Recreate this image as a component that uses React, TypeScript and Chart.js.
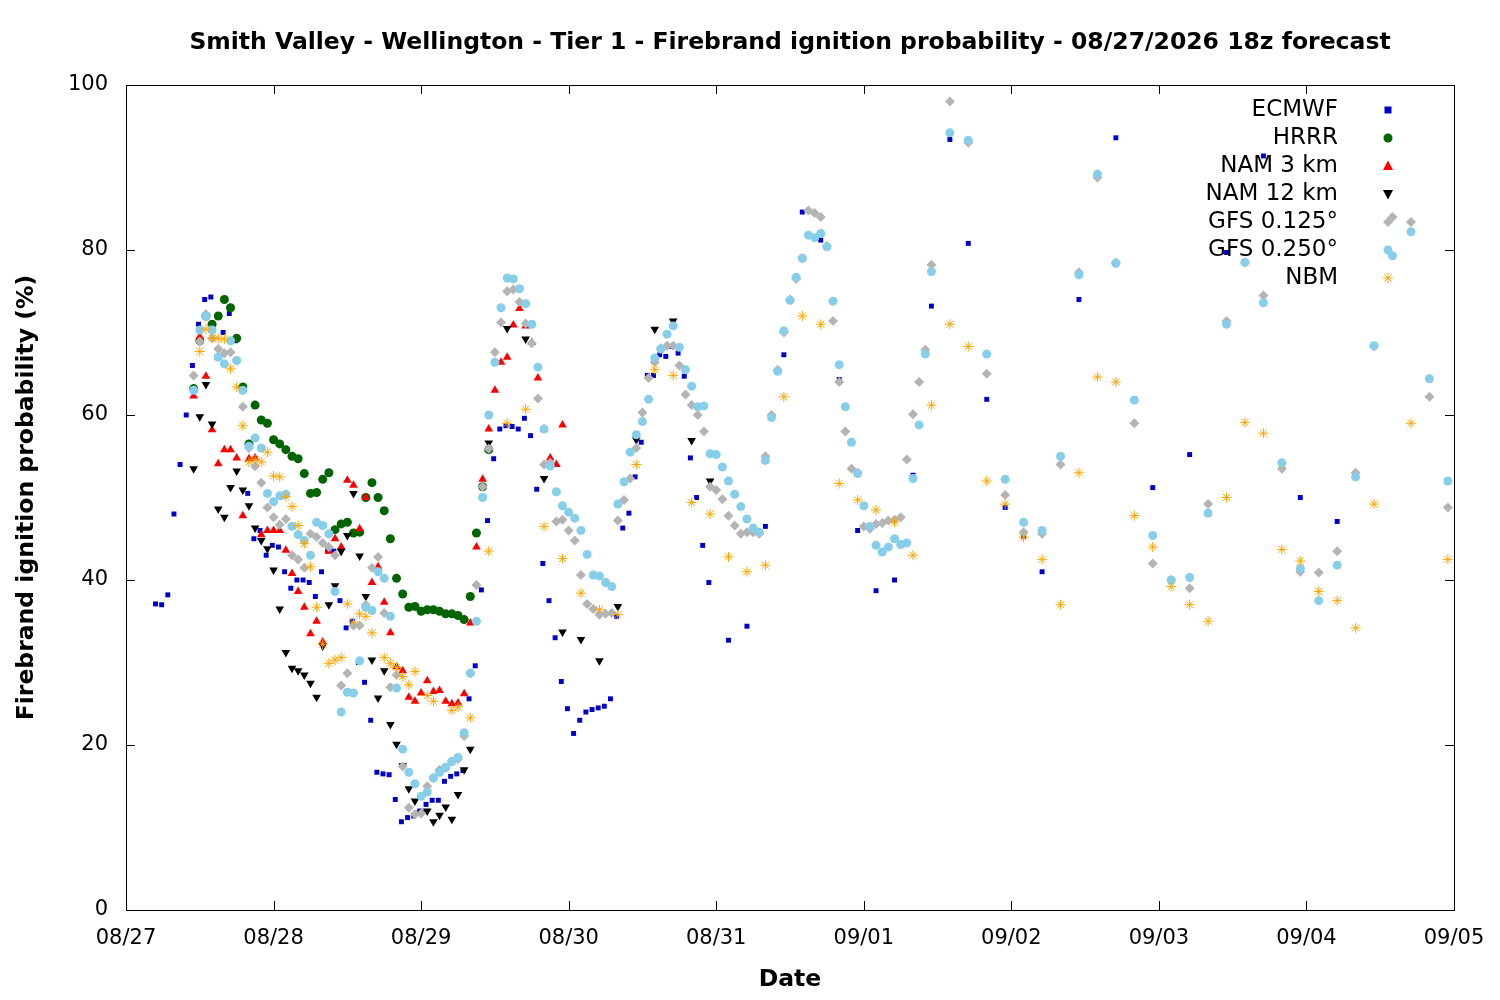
import { useEffect, useRef } from 'react';
import { Chart, registerables } from 'chart.js';

Chart.register(...registerables);

// x is in hours since 08/27 00z
const HOURS_PER_DAY = 24;
const dayLabels = ['08/27', '08/28', '08/29', '08/30', '08/31', '09/01', '09/02', '09/03', '09/04', '09/05'];

const ecmwfDense = [
  37.1, 37, 38.2, 48, 54, 60, 66, 71, 74, 74.3, 67, 70, 72.3, 69, 63, 50.5, 45, 46, 43, 44.2,
  44, 41, 39, 40, 40, 39.7, 38, 41, 43.5, 43.5, 37.5, 34.2, 35, 30, 27.6, 23, 16.7, 16.5, 16.4, 13.4,
  10.7, 11.2, 11.4, 12, 12.8, 13.3, 13.3, 15.6, 16.2, 16.5, 16.9, 25.6, 29.6, 38.8, 47.2, 54.7, 58.3, 58.7, 58.6, 58.3,
  59.6, 57.5, 51, 42, 37.5, 33, 27.7, 24.4, 21.4, 23, 24, 24.3, 24.5, 24.7, 25.6, 35.6, 46.3, 48.1, 52.5, 56.7,
  64.8, 64.8, 67.3, 67.1, 68.3, 67.5, 64.7, 54.8, 50, 44.2, 39.7,
];
const ecmwfSparse = [
  32.7, 34.4, 46.5, 67.3, 84.6, 81.2, 64.3, 46, 38.7, 40, 52.7, 73.2, 93.4, 80.8, 61.9, 48.8, 45.3, 41,
  55, 74, 89, 93.6, 62, 51.2, 40, 55.2, 48, 79.7, 78.5, 91.4, 54, 50, 37.6, 47.1,
];
const hrrr = [
  63.2, 69, 72, 71, 72, 74, 73, 69.3, 63.4, 56.5, 61.2, 59.4, 59, 57, 56.5, 55.8, 55, 54.7, 52.9, 50.5,
  50.6, 52.2, 53, 46.1, 46.8, 47, 45.7, 45.8, 50, 51.8, 50, 48.4, 45, 40.2, 38.3, 36.7, 36.8, 36.2, 36.4, 36.4,
  36.2, 35.9, 35.9, 35.7, 35.2, 38, 45.7, 51.3, 55.8,
];
const nam3 = [
  62.3, 69.5, 64.7, 58.2, 54.1, 55.8, 55.8, 54.8, 47.8, 54.7, 54.8, 45.5, 46, 46, 46, 43.6, 40.8, 38.6, 36.7, 33.5,
  35, 32.5, 43.5, 45, 44, 52.1, 51.5, 46.2, 50, 39.7, 41.6, 37.3, 33.6, 29.5, 29, 25.8, 25.3, 26.3, 27.8, 26.5,
  26.6, 25.3, 25, 25.1, 26.2, 34.8, 44, 52.2, 58.3, 63, 66.4, 67, 70.9, 72.9, 70.8, 68.8, 64.5, 58.3, 54.8, 54,
  58.8,
];
const nam12Dense = [
  53.5, 59.8, 63.7, 58.9, 48.6, 47.6, 51.2, 53.2, 50.9, 49, 46.3, 44.8, 43.8, 41.2, 36.5, 31.2, 29.3, 29, 28.5, 27.5,
  25.8, 32, 37, 39.3, 43.5, 45.4, 50.5, 42.9, 38, 30.3, 25.7, 29, 22.5, 20.1, 17.5, 14.7, 13.2, 11.8, 12, 10.7,
  11.5, 12.5, 11, 14, 17, 19.5,
];
const nam12Sparse = [56.6, 70.5, 69.2, 52.3, 33.7, 32.8, 30.2, 36.8, 57, 70.4, 71.4, 56.9, 52];
const gfs0125Dense = [
  64.8, 68.9, 72.2, 69.3, 68, 67.5, 67.6, 66.6, 61, 56, 53.8, 51.8, 48.8, 47.6, 46.7, 47.4, 43, 42.5, 41.5, 45.6,
  45.2, 44.5, 44, 43, 27.2, 28.7, 34.5, 34.5, 37, 41.5, 42.8, 36, 27, 28.5, 17.4, 12.4, 11.6, 11.7, 15, 16,
  17, 17.2, 18, 18.3, 21.1, 28.7, 39.4, 51.3, 55.9, 67.6, 71.2, 75, 75.2, 73.7, 71.1, 68.7, 62, 54, 54.2, 47.1,
  47.3, 46, 44.8, 40.6, 37.1, 36.5, 35.8, 35.9, 36, 47.2, 49.7, 52.3, 56, 60.3, 64.5, 66.4, 68.1, 68.4, 68.4, 66,
  62.5, 61.2, 60, 58, 51.3, 50.9, 49.8, 47.8, 46.6, 45.6, 45.8, 45.8, 45.6, 55, 60, 65.5, 70, 74, 76.5, 79,
  84.8, 84.5, 84, 80.5, 71.4, 64, 58, 53.5, 53, 46.5, 46.2, 46.8, 46.9, 47.2, 47.3, 47.6, 54.6, 60.1, 64, 67.9,
  78.2,
];
const gfs0125Sparse = [
  98, 93, 65, 50.3, 45.8, 45.6, 54, 77.3, 88.8, 78.5, 59, 42, 40, 39, 49.2, 71.4, 78.5, 74.5, 53.5, 41,
  40.9, 43.5, 53, 68.3, 84, 83.4, 62.2, 48.8,
];
const gfs0250Dense = [
  63, 70.3, 72, 70.3, 67, 66.2, 69, 66.6, 63, 56.2, 57.2, 56, 50.5, 49.5, 50.2, 50.4, 46.5, 45.5, 44.8, 43,
  47, 46.6, 45.6, 38.6, 24, 26.4, 26.3, 30.2, 36.7, 36.3, 41, 40.2, 35.6, 26.9, 19.5, 16.7, 15.3, 13.8, 14.3, 16,
  16.7, 17.3, 18, 18.5, 21.5, 28.7, 35, 50, 60, 66.4, 73, 76.6, 76.5, 75.3, 73.5, 71, 65.8, 58.3, 53.8, 50.7,
  49, 48.2, 47.5, 46, 43.1, 40.6, 40.5, 39.7, 39.2, 49.2, 51.9, 55.5, 57.6, 59.2, 61.9, 66.9, 68, 69.8, 70.8, 68.2,
  65.5, 63.5, 61, 61.1, 55.3, 55.2, 53.7, 52, 50.4, 48.9, 47.4, 46.3, 45.8, 54.5, 59.7, 65.3, 70.2, 73.9, 76.7, 79,
  81.8, 81.5, 82, 80.4, 73.8, 66.1, 61, 56.7, 52.9, 49, 46.5, 44.2, 43.4, 44, 45, 44.3, 44.5, 52.3, 58.8, 67.4,
  77.4,
];
const gfs0250Sparse = [
  94.2, 93.3, 67.4, 52.2, 47, 46, 55, 77, 89.2, 78.4, 61.8, 45.4, 40, 40.3, 48.1, 71, 78.5, 73.6, 54.2, 41.4,
  37.5, 41.8, 52.5, 68.4, 79.3, 82.2, 64.4, 52,
];
const nbmDense = [
  67.7, 70.4, 69.3, 69.3, 69.2, 65.6, 63.4, 58.7, 54.3, 54.6, 54.3, 55.5, 52.6, 52.5, 50.1, 48.9, 46.6, 44.4, 41.6, 36.7,
  32.2, 29.9, 30.3, 30.6, 37.1, 34.9, 35.9, 35.6, 33.6, null, 30.6, 29.9, 29.4, 28.3, 27.3, 28.9, null, 26, 25.3, null,
  null, 24.2, 24.6, null, 23.3,
];
const nbmSparse = [
  43.5, 59, 60.7, 46.5, 42.6, 38.4, 36.4, 35.8, 54, 65.5, 64.8, 49.4, 48, 42.8, 41, 41.8, 62.2, 72, 71, 51.7,
  49.7, 48.5, 47, 43, 61.2, 71, 68.3, 52, 49.2, 45.2, 42.5, 37, 53, 64.6, 64, 47.8, 44, 39.2, 37, 35,
  50, 59.1, 57.8, 43.7, 42.3, 38.6, 37.5, 34.2, 49.2, null, 59, null, 42.5,
];

type Pt = { x: number; y: number };
function pts(start: number, step: number, vals: (number | null)[]): Pt[] {
  const out: Pt[] = [];
  vals.forEach((v, i) => {
    if (v !== null) out.push({ x: start + i * step, y: v });
  });
  return out;
}

const series = [
  { label: 'ECMWF', color: '#0000cc', style: 'rect', rot: 0, r: 3.5, data: [...pts(4.8, 1, ecmwfDense), ...pts(98, 3, ecmwfSparse)] },
  { label: 'HRRR', color: '#006400', style: 'circle', rot: 0, r: 4.5, data: pts(11, 1, hrrr) },
  { label: 'NAM 3 km', color: '#ff0000', style: 'triangle', rot: 0, r: 5, data: pts(11, 1, nam3) },
  { label: 'NAM 12 km', color: '#000000', style: 'triangle', rot: 180, r: 5, data: [...pts(11, 1, nam12Dense), ...pts(59, 3, nam12Sparse)] },
  { label: 'GFS 0.125°', color: '#b4b4b4', style: 'rectRot', rot: 0, r: 5, data: [...pts(11, 1, gfs0125Dense), ...pts(134, 3, gfs0125Sparse)] },
  { label: 'GFS 0.250°', color: '#87ceeb', style: 'circle', rot: 0, r: 4.5, data: [...pts(11, 1, gfs0250Dense), ...pts(134, 3, gfs0250Sparse)] },
  { label: 'NBM', color: '#ffa500', style: 'star', rot: 0, r: 5, data: [...pts(12, 1, nbmDense), ...pts(59, 3, nbmSparse)] },
];

const FONT = '"DejaVu Sans", sans-serif';

function drawMarker(ctx: CanvasRenderingContext2D, style: string, rot: number, r: number, x: number, y: number) {
  ctx.save();
  ctx.translate(x, y);
  ctx.rotate((rot * Math.PI) / 180);
  ctx.beginPath();
  if (style === 'rect') {
    ctx.rect(-r, -r, 2 * r, 2 * r);
    ctx.fill();
  } else if (style === 'circle') {
    ctx.arc(0, 0, r, 0, Math.PI * 2);
    ctx.fill();
  } else if (style === 'triangle') {
    ctx.moveTo(0, -r * 1.1);
    ctx.lineTo(r, r * 0.8);
    ctx.lineTo(-r, r * 0.8);
    ctx.closePath();
    ctx.fill();
  } else if (style === 'rectRot') {
    ctx.moveTo(0, -r); ctx.lineTo(r, 0); ctx.lineTo(0, r); ctx.lineTo(-r, 0);
    ctx.closePath();
    ctx.fill();
  } else {
    for (let k = 0; k < 4; k++) {
      const ang = (k * Math.PI) / 4;
      ctx.moveTo(-r * Math.cos(ang), -r * Math.sin(ang));
      ctx.lineTo(r * Math.cos(ang), r * Math.sin(ang));
    }
    ctx.stroke();
  }
  ctx.restore();
}

const framePlugin = {
  id: 'frame',
  afterDatasetsDraw(chart: any) {
    const { ctx, chartArea: a, scales } = chart;
    ctx.save();
    ctx.strokeStyle = '#000';
    ctx.lineWidth = 1;
    ctx.strokeRect(a.left + 0.5, a.top + 0.5, a.right - a.left, a.bottom - a.top);
    ctx.beginPath();
    scales.x.ticks.forEach((t: any) => {
      const x = Math.round(scales.x.getPixelForValue(t.value)) + 0.5;
      ctx.moveTo(x, a.bottom); ctx.lineTo(x, a.bottom - 9);
      ctx.moveTo(x, a.top); ctx.lineTo(x, a.top + 9);
    });
    scales.y.ticks.forEach((t: any) => {
      const y = Math.round(scales.y.getPixelForValue(t.value)) + 0.5;
      ctx.moveTo(a.left, y); ctx.lineTo(a.left + 9, y);
      ctx.moveTo(a.right, y); ctx.lineTo(a.right - 9, y);
    });
    ctx.stroke();

    // legend, top right inside the plot
    ctx.font = `23px ${FONT}`;
    ctx.textAlign = 'right';
    ctx.textBaseline = 'middle';
    series.forEach((s, i) => {
      const y = a.top + 25 + i * 28;
      ctx.fillStyle = '#000';
      ctx.fillText(s.label, a.right - 116, y);
      ctx.fillStyle = s.color;
      ctx.strokeStyle = s.color;
      ctx.lineWidth = 1;
      drawMarker(ctx, s.style, s.rot, s.r, a.right - 66, y);
    });

    // titles
    ctx.fillStyle = '#000';
    ctx.textAlign = 'center';
    ctx.font = `bold 23.5px ${FONT}`;
    ctx.fillText('Smith Valley - Wellington - Tier 1 - Firebrand ignition probability - 08/27/2026 18z forecast', 790, 43);
    ctx.fillText('Date', 790, 980);
    ctx.translate(27, (a.top + a.bottom) / 2);
    ctx.rotate(-Math.PI / 2);
    ctx.fillText('Firebrand ignition probability (%)', 0, 0);
    ctx.restore();
  },
};

export default function App() {
  const canvasRef = useRef<HTMLCanvasElement | null>(null);

  useEffect(() => {
    document.body.style.margin = '0';
    if (!canvasRef.current) return;
    const chart = new Chart(canvasRef.current, {
      type: 'scatter',
      data: {
        datasets: series.map((s, i) => ({
          label: s.label,
          data: s.data,
          backgroundColor: s.color,
          borderColor: s.color,
          pointStyle: s.style as any,
          rotation: s.rot,
          pointRadius: s.r,
          pointBorderWidth: s.style === 'star' ? 1 : 0,
          order: series.length - i,
        })),
      },
      options: {
        animation: false,
        responsive: false,
        layout: { padding: { top: 85, right: 46, left: 0, bottom: 0 } },
        plugins: { legend: { display: false }, tooltip: { enabled: false } },
        scales: {
          x: {
            type: 'linear',
            min: 0,
            max: 9 * HOURS_PER_DAY,
            grid: { display: false },
            border: { display: false },
            afterFit: (scale: any) => { scale.height = 90; scale.paddingRight = 0; },
            ticks: {
              stepSize: HOURS_PER_DAY,
              font: { family: FONT, size: 21 },
              color: '#000',
              maxRotation: 0,
              autoSkip: false,
              padding: 8,
              callback: (v: any) => dayLabels[Math.round(Number(v) / HOURS_PER_DAY)] ?? '',
            },
          },
          y: {
            min: 0,
            max: 100,
            grid: { display: false },
            border: { display: false },
            afterFit: (scale: any) => { scale.width = 126; },
            ticks: { stepSize: 20, font: { family: FONT, size: 21 }, color: '#000', padding: 10 },
          },
        },
      },
      plugins: [framePlugin],
    });
    return () => chart.destroy();
  }, []);

  return <canvas ref={canvasRef} width={1500} height={1000} style={{ display: 'block' }} />;
}
